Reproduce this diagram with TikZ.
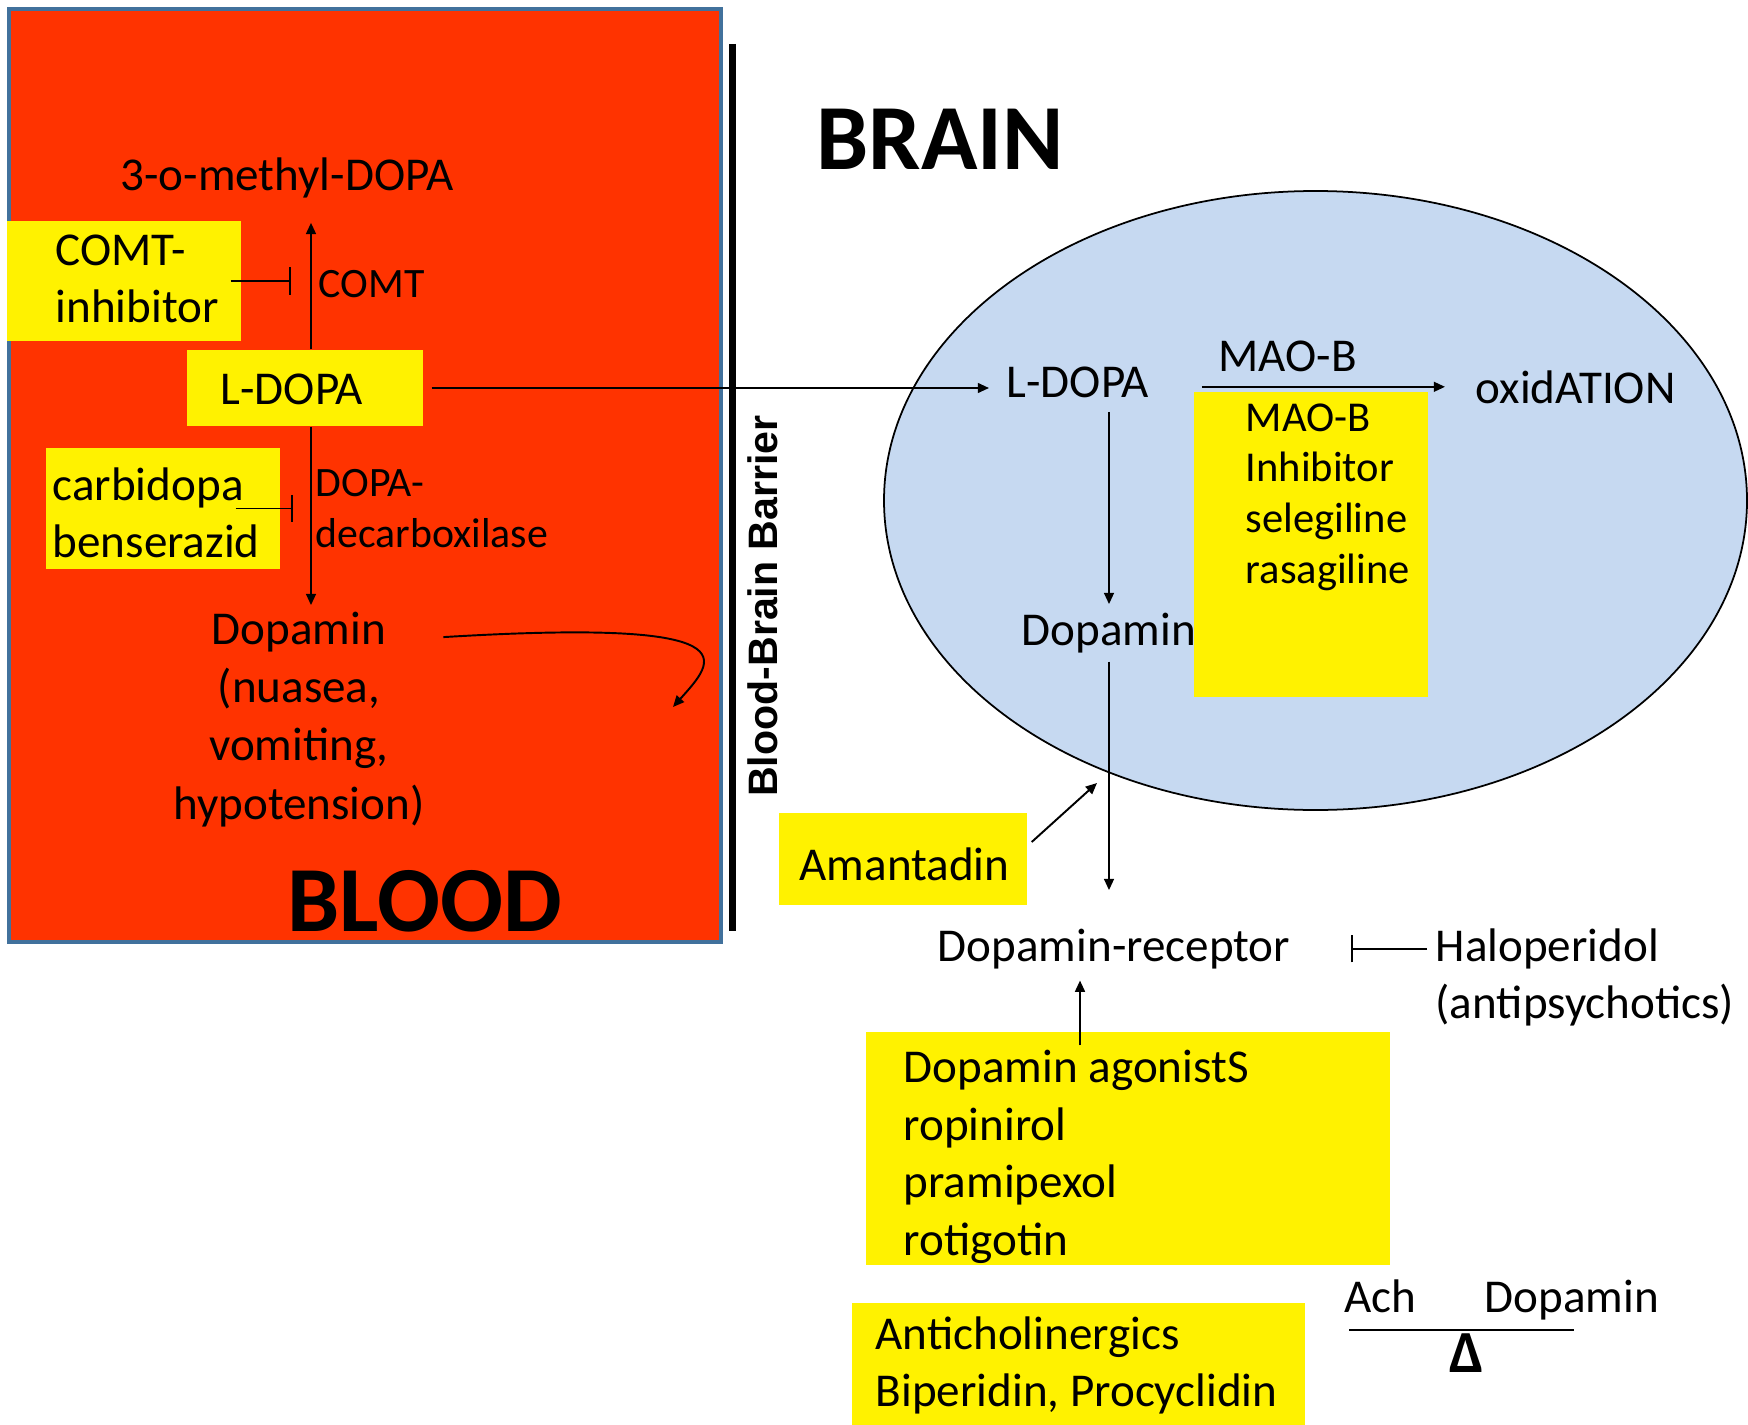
\documentclass[tikz,border=0pt]{standalone}
\usepackage{fontspec}
\setmainfont{Carlito}
\newfontfamily\bbbfont{Liberation Sans}
\usetikzlibrary{arrows.meta,positioning,calc,shapes}
\definecolor{bloodred}{HTML}{FF3300}
\definecolor{bloodedge}{HTML}{41719C}
\definecolor{brainblue}{HTML}{C6D9F1}

\begin{document}
\begin{tikzpicture}[x=0.1mm,y=-0.1mm,
  txt/.style={font=\fontsize{13.4}{16.4}\selectfont,inner sep=0pt,align=left,yshift=-0.8pt},
  lbl/.style={font=\fontsize{11.9}{14.5}\selectfont,inner sep=0pt,align=left},
  title/.style={font=\fontsize{26.5}{30}\selectfont\bfseries,inner sep=0pt},
  hlbox/.style={fill=yellow,inner sep=0pt},
  pathway/.style={-{Triangle[length=3.2pt,width=2.8pt]},line width=0.55pt},
  inhibit/.style={-{Bar[width=7.7pt]},line width=0.55pt}]
\path[use as bounding box,fill=white] (0,0) rectangle (1748,1425);
\draw[fill=bloodred,draw=bloodedge,line width=0.33mm] (9,9) rectangle (721,942);
\draw[line width=0.7mm] (732,44) -- (732,931);
\draw[fill=brainblue,line width=0.5pt] (1315.5,500.5) ellipse [x radius=43.15mm,y radius=30.95mm];

\coordinate (colA) at (311,0);
\coordinate (colR) at (1080,0);
\coordinate (nausea) at (673,707);
\coordinate (amaTip) at (1097,783);
\coordinate (balL) at (1349,1330);
\coordinate (balR) at (1574,1330);

\node[title] (brain) at (940,139) {BRAIN};
\node[title] (blood) at (425,901) {BLOOD};
\node[rotate=90,font=\bbbfont\bfseries\fontsize{11.7}{14}\selectfont,inner sep=0pt] (bbb) at (763,606) {Blood-Brain Barrier};

\node[hlbox,minimum width=23.4mm,minimum height=12mm] (comtbox) at (124,281) {};
\node[hlbox,minimum width=23.6mm,minimum height=7.6mm] (ldopabox) at (305,388) {};
\node[hlbox,minimum width=23.4mm,minimum height=12.1mm] (carbbox) at (163,508.5) {};
\node[txt] (methyl) at (287,175) {3-o-methyl-DOPA};
\node[txt,anchor=west] (comtinh) at (55,276) {COMT-\\inhibitor};
\node[txt,anchor=west] (ldopa) at (220,387) {L-DOPA};
\node[txt,anchor=west] (carb) at (52,510) {carbidopa\\benserazid};
\node[lbl,anchor=west] (comt) at (318,284) {COMT};
\node[lbl,anchor=west] (decarb) at (315,508.5) {DOPA-\\decarboxilase};
\node[txt,align=center,font=\fontsize{13.4}{16.6}\selectfont] (dopblood) at (299,716.5) {Dopamin\\(nuasea,\\vomiting,\\hypotension)};

\node[txt,anchor=west] (ldopab) at (1006,380) {L-DOPA};
\node[txt] (dopb) at (1109,630) {Dopamin};
\node[hlbox,minimum width=23.4mm,minimum height=30.5mm] (maobox) at (1311,544.5) {};
\node[txt,anchor=west,font=\fontsize{12.1}{14.5}\selectfont] (maoinh) at (1245,494.5) {MAO-B\\Inhibitor\\selegiline\\rasagiline};
\node[txt,anchor=west] (maob) at (1218,354) {MAO-B};
\node[txt,anchor=west] (oxid) at (1475,384) {oxidATION};

\node[hlbox,minimum width=24.8mm,minimum height=9.2mm] (amabox) at (903,859) {};
\node[txt,anchor=west] (amantadin) at (799,861) {Amantadin};
\node[txt] (receptor) at (1114,946) {Dopamin-receptor};
\node[txt,anchor=west] (halo) at (1435,974.5) {Haloperidol\\(antipsychotics)};
\node[hlbox,minimum width=52.4mm,minimum height=23.3mm] (agobox) at (1128,1148.5) {};
\node[txt,anchor=west] (agonists) at (903,1154) {Dopamin agonistS\\ropinirol\\pramipexol\\rotigotin};
\node[hlbox,minimum width=45.3mm,minimum height=12.2mm] (antibox) at (1078.5,1364) {};
\node[txt,anchor=west] (anticho) at (875,1362.5) {Anticholinergics\\Biperidin, Procyclidin};
\node[txt,anchor=base west] (ach) at (1344,1310) {Ach};
\node[txt,anchor=base west] (dopbal) at (1484,1310) {Dopamin};
\node[font=\fontsize{17}{20}\selectfont\bfseries,inner sep=0pt] (delta) at (1467,1353) {Δ};

\draw[pathway] (ldopabox.north -| colA) -- ($(methyl.center -| colA)+(0,45)$);
\draw[pathway] (ldopabox.south -| colA) -- ($(dopblood.north -| colA)+(0,-6)$);
\draw[inhibit] ([xshift=-1.1mm]comtbox.east) -- ([xshift=-2mm]comtbox.east -| colA);
\draw[inhibit] ([xshift=-4.5mm]carbbox.east) -- ([xshift=-1.8mm]carbbox.east -| colA);
\draw[pathway] ([xshift=0.8mm]ldopabox.east) -- ([xshift=-1.7mm]ldopab.west |- ldopabox.east);
\draw[pathway] ($(dopblood.north east)+(18,26)$) .. controls +(314,-19) and +(42,-47) .. (nausea);
\draw[pathway] ([yshift=-1.3mm]ldopab.south -| dopb) -- ([yshift=0.8mm]dopb.north);
\draw[pathway] ([yshift=-0.8mm]dopb.south) -- ([yshift=3.8mm]dopb.south |- receptor.north);
\draw[pathway] ([xshift=5.2mm]ldopab.east |- oxid.west) -- ([xshift=-3mm]oxid.west);
\draw[pathway] ($(amabox.east)+(4,-17)$) -- (amaTip);
\draw[inhibit] ([xshift=-0.8mm]halo.west |- receptor.east) -- ([xshift=6mm]receptor.east);
\draw[pathway] ($(agobox.north -| colR)+(0,14)$) -- ([yshift=-1.1mm]receptor.south -| colR);
\draw[line width=0.7pt] (balL) -- (balR);
\end{tikzpicture}
\end{document}
